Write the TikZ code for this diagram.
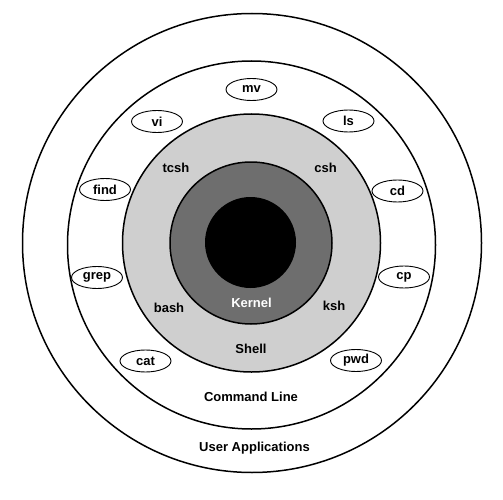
\documentclass[tikz,border=0pt]{standalone}
\usepackage{fontspec}
\setmainfont{Liberation Sans}
\usetikzlibrary{shapes.geometric}
\definecolor{shellgray}{HTML}{CFCFCF}
\definecolor{kernelgray}{HTML}{6E6E6E}
\tikzset{
  ring/.style={circle, draw=black, line width=1.5pt, inner sep=0pt, minimum size=#1},
  cmd/.style={ellipse, draw=black, line width=0.9pt, fill=white, minimum width=51pt, minimum height=22pt, inner sep=0pt, font=\fontsize{13}{15}\selectfont\bfseries},
  lbl/.style={font=\fontsize{13}{15}\selectfont\bfseries, inner sep=0pt},
}
\begin{document}
\begin{tikzpicture}[x=1pt,y=-1pt]
\useasboundingbox (0,0) rectangle (503,500);
\fill[white] (0,0) rectangle (503,500);
\node[ring=459pt, fill=white] (userapp) at (252,243) {};
\node[ring=368pt, fill=white] (cmdline) at (251.5,245) {};
\node[ring=258pt, fill=shellgray] (shell) at (251.5,243) {};
\node[ring=162pt, fill=kernelgray] (kernel) at (251,243) {};
\node[circle, fill=black, inner sep=0pt, minimum size=91pt] (core) at (250.5,242.5) {};

\node[cmd] (mv) at (251.5,89.5) {mv};
\node[cmd] (vi) at (157,121.5) {vi};
\node[cmd] (ls) at (348.5,121) {ls};
\node[cmd] (find) at (105,189.5) {find};
\node[cmd] (cd) at (397.5,191) {cd};
\node[cmd] (grep) at (97,277.5) {grep};
\node[cmd] (cp) at (404,277) {cp};
\node[cmd] (cat) at (145.5,361) {cat};
\node[cmd] (pwd) at (356,360.5) {pwd};

\node[lbl] (tcsh) at (176,168) {tcsh};
\node[lbl] (csh) at (325.5,168) {csh};
\node[lbl] (bash) at (169,308) {bash};
\node[lbl] (ksh) at (334,306) {ksh};
\node[lbl, text=white] (kernellbl) at (251.5,303) {Kernel};
\node[lbl] (shelllbl) at (251,348.5) {Shell};
\node[lbl] (cmdlbl) at (251,397) {Command Line};
\node[lbl] (userlbl) at (254.5,448) {User Applications};
\end{tikzpicture}
\end{document}
